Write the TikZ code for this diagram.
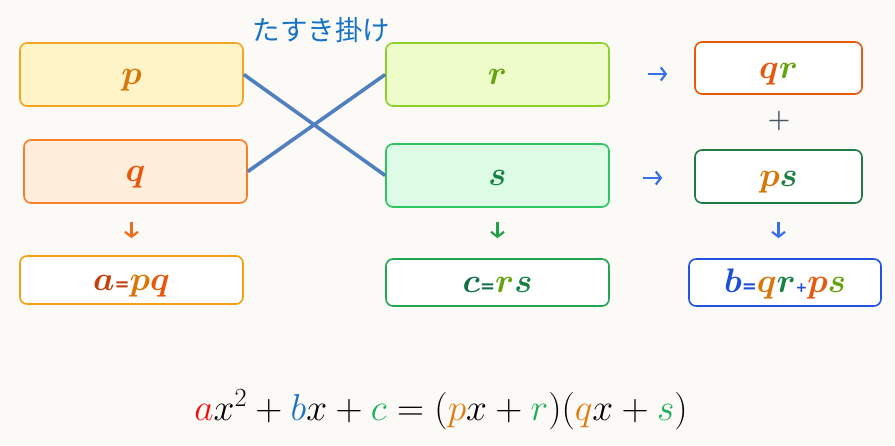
\RequirePackage{fix-cm}
\documentclass[tikz,border=0pt]{standalone}
\usepackage{fontspec}
\usepackage{bm}
\newfontfamily\jpfont{Noto Sans CJK JP}
\newfontfamily\opfont{DejaVu Sans}
\usetikzlibrary{arrows.meta}
\definecolor{bg}{HTML}{FBFAF6}
\definecolor{pfill}{HTML}{FFF3C8}\definecolor{pborder}{HTML}{F5A524}
\definecolor{qfill}{HTML}{FFEEDB}\definecolor{qborder}{HTML}{F77F2A}
\definecolor{rfill}{HTML}{EDFCC9}\definecolor{rborder}{HTML}{8CD12B}
\definecolor{sfill}{HTML}{DCFCE6}\definecolor{sborder}{HTML}{2DC660}
\definecolor{aborder}{HTML}{F5A013}\definecolor{cborder}{HTML}{22A651}
\definecolor{qrborder}{HTML}{EA580C}\definecolor{psborder}{HTML}{1F7A46}
\definecolor{bborder}{HTML}{2453E0}
\definecolor{tp}{HTML}{D97706}\definecolor{tq}{HTML}{E8580C}
\definecolor{tr}{HTML}{65A30D}\definecolor{ts}{HTML}{178044}
\definecolor{ta}{HTML}{C2410C}\definecolor{tc}{HTML}{127048}
\definecolor{tb}{HTML}{1D4ED8}
\definecolor{arrblue}{HTML}{3A6FE8}\definecolor{arrorange}{HTML}{F26A1B}
\definecolor{arrgreen}{HTML}{22A04A}\definecolor{plusgrey}{HTML}{4A5568}
\definecolor{crossc}{HTML}{4F7FBF}\definecolor{titlec}{HTML}{1673C6}
\definecolor{ea}{HTML}{F01010}\definecolor{eb}{HTML}{1A74C4}
\definecolor{ec}{HTML}{1FAE5B}\definecolor{ep}{HTML}{E07B10}
\newcommand\lettxt[1]{$\bm{#1}$}
\newcommand\smop[2]{\mathbin{\hbox{\opfont\bfseries\fontsize{#1}{#1}\selectfont #2}}}
\begin{document}
\begin{tikzpicture}[x=1pt,y=-1pt,
  cbox/.style={draw, rounded corners=7pt, line width=1.6pt, inner sep=0pt,
    text height=20pt, text depth=0pt, font=\fontsize{34}{40}\selectfont},
  bigbox/.style={cbox, minimum width=223pt, minimum height=63pt},
  resbox/.style={cbox, fill=white, minimum height=47pt},
  crossline/.style={crossc, line width=3.6pt},
  arr/.style={line width=2.2pt, -{Straight Barb[length=5pt,width=13pt]}}]
\fill[bg] (0,0) rectangle (895,445);
\useasboundingbox (0,0) rectangle (895,445);
\node[titlec, font=\jpfont\fontsize{27.5}{30}\selectfont] (title) at (321.5,30.5) {たすき掛け};
\node[bigbox, fill=pfill, draw=pborder] (np) at (131.5,74.5) {\lettxt{\textcolor{tp}{p}}};
\node[bigbox, fill=qfill, draw=qborder] (nq) at (135.5,171.5) {\lettxt{\textcolor{tq}{q}}};
\node[bigbox, fill=rfill, draw=rborder] (nr) at (497.5,74.5) {\lettxt{\textcolor{tr}{r}}};
\node[bigbox, fill=sfill, draw=sborder] (ns) at (497.5,175.5) {\lettxt{\textcolor{ts}{s}}};
\node[resbox, draw=aborder, minimum width=223pt, minimum height=48pt] (na) at (131.5,280)
  {\lettxt{\textcolor{ta}{a\smop{18}{=}}\textcolor{tp}{p}\textcolor{tq}{q}}};
\node[resbox, draw=cborder, minimum width=223pt] (nc) at (497.5,282.5)
  {\lettxt{\textcolor{tc}{c\smop{18}{=}}\textcolor{tr}{r}\textcolor{ts}{s}}};
\node[resbox, draw=qrborder, minimum width=167pt, minimum height=52pt] (nqr) at (778.5,68)
  {\lettxt{\textcolor{tq}{q}\textcolor{tr}{r}}};
\node[resbox, draw=psborder, minimum width=167pt, minimum height=53pt] (nps) at (778.5,176.5)
  {\lettxt{\textcolor{tp}{p}\textcolor{ts}{s}}};
\node[resbox, draw=bborder, minimum width=192pt] (nb) at (785,282.5)
  {\lettxt{\textcolor{tb}{b\smop{18}{=}}\textcolor{tp}{q}\textcolor{ts}{r}\textcolor{tb}{\smop{14}{+}}\textcolor{tq}{p}\textcolor{tr}{s}}};
\node[plusgrey, font=\fontsize{26}{28}\selectfont] (plus) at (779,121) {$\bm{+}$};
\draw[crossline] (np.east) -- (ns.west);
\draw[crossline] (nq.east) -- (nr.west);
\draw[arr, arrorange, shorten <=18pt, shorten >=17pt] (nq.south -| na.south) -- (na.north);
\draw[arr, arrgreen, shorten <=14pt, shorten >=20pt] (ns.south) -- (nc.north);
\draw[arr, arrblue, shorten <=18pt, shorten >=20pt] (nps.south) -- (nps.south |- nb.north);
\draw[arr, arrblue, shorten <=38pt, shorten >=27pt] ([yshift=0.5pt]nr.east) -- ([yshift=0.5pt]nr.east -| nqr.west);
\draw[arr, arrblue, shorten <=33pt, shorten >=32pt] ([yshift=-2.5pt]ns.east) -- ([yshift=-2.5pt]ns.east -| nps.west);
\node[font=\fontsize{37.5}{42}\selectfont] (eq) at (441,410)
  {$\textcolor{ea}{a}x^2+\textcolor{eb}{b}x+\textcolor{ec}{c}=(\textcolor{ep}{p}x+\textcolor{ec}{r})(\textcolor{ep}{q}x+\textcolor{ec}{s})$};
\end{tikzpicture}
\end{document}
